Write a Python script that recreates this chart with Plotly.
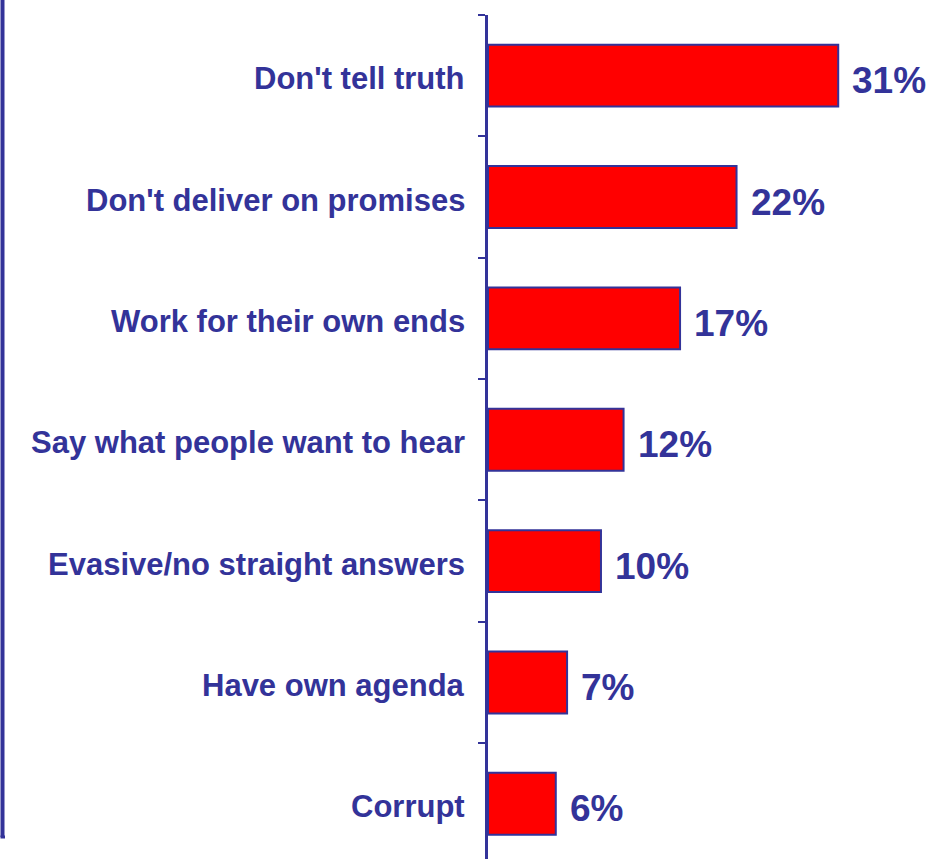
import plotly.graph_objects as go

categories = ["Don't tell truth", "Don't deliver on promises", "Work for their own ends",
              "Say what people want to hear", "Evasive/no straight answers",
              "Have own agenda", "Corrupt"]
values = [31, 22, 17, 12, 10, 7, 6]
value_labels = ["31%", "22%", "17%", "12%", "10%", "7%", "6%"]

positions = list(range(len(categories)))
boundaries = [p - 0.5 for p in positions]

NAVY = "#333399"
FONT = "Liberation Sans, Arial, sans-serif"

fig = go.Figure()
fig.add_trace(go.Bar(
    x=values, y=positions, orientation="h", width=0.51,
    marker=dict(color="#FF0000", line=dict(color=NAVY, width=2)),
    hoverinfo="skip",
))

annotations = []
for cat, val, lab, pos in zip(categories, values, value_labels, positions):
    annotations.append(dict(x=val, y=pos, xref="x", yref="y", text="<b>%s</b>" % lab,
                            showarrow=False, xanchor="left", yanchor="middle",
                            xshift=12, yshift=-5,
                            font=dict(family=FONT, size=37, color=NAVY)))
    annotations.append(dict(x=0, y=pos, xref="x", yref="y", text="<b>%s</b>" % cat,
                            showarrow=False, xanchor="right", yanchor="middle",
                            xshift=-21, yshift=-3,
                            font=dict(family=FONT, size=31, color=NAVY)))

fig.update_layout(
    width=930, height=859,
    margin=dict(l=488, r=24, t=15, b=0, pad=0),
    paper_bgcolor="white", plot_bgcolor="white",
    showlegend=False,
    xaxis=dict(range=[0, 37], visible=False, fixedrange=True),
    yaxis=dict(range=[6.455, -0.5], showgrid=False, zeroline=False,
               showline=True, linecolor=NAVY, linewidth=3,
               tickmode="array", tickvals=boundaries, ticktext=["" for _ in boundaries],
               ticks="outside", ticklen=7, tickwidth=2, tickcolor=NAVY),
    annotations=annotations,
    shapes=[dict(type="line", xref="paper", yref="paper",
                 x0=(2.5 - 488) / 418, x1=(2.5 - 488) / 418,
                 y0=(859 + 2) / 844, y1=(859 - 837) / 844,
                 line=dict(color=NAVY, width=4)),
            dict(type="line", xref="paper", yref="paper",
                 x0=(0.5 - 488) / 418, x1=(5 - 488) / 418,
                 y0=(859 - 837) / 844, y1=(859 - 837) / 844,
                 line=dict(color=NAVY, width=3))],
)

fig.write_html("out.html")
